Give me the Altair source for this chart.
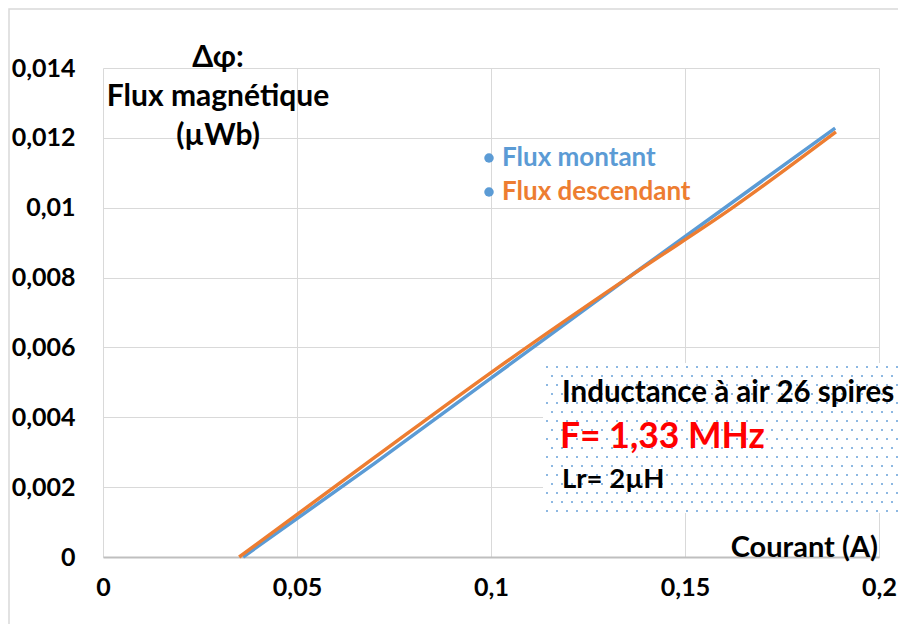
import altair as alt
import pandas as pd

# ---- data ----
series_names = ["Flux montant", "Flux descendant"]
series_colors = ["#5B9BD5", "#ED7D31"]
legend_dot_color = "#5B9BD5"

montant_x = [0.0361, 0.07, 0.1, 0.137, 0.1887]
montant_y = [0.0, 0.00268, 0.00512, 0.00813, 0.01228]

descendant_x = [0.0351, 0.07, 0.1, 0.138, 0.162, 0.1889]
descendant_y = [0.0, 0.00285, 0.00528, 0.00820, 0.00998, 0.01217]

x_ticks = [0, 0.05, 0.1, 0.15, 0.2]
y_ticks = [0, 0.002, 0.004, 0.006, 0.008, 0.010, 0.012, 0.014]

y_title_lines = ["Δφ:", "Flux magnétique", "(µWb)"]
x_title = "Courant (A)"
box_lines = ["Inductance à air 26 spires", "F= 1,33 MHz", "Lr= 2µH"]

FONT = "Lato"
W, H = 776, 489

rows = []
for xv, yv in zip(montant_x, montant_y):
    rows.append({"courant": xv, "flux": yv, "serie": series_names[0], "o": len(rows)})
for xv, yv in zip(descendant_x, descendant_y):
    rows.append({"courant": xv, "flux": yv, "serie": series_names[1], "o": len(rows)})
df = pd.DataFrame(rows)

num_expr = "replace(format(datum.value, '~g'), '.', ',')"

one = alt.Data(values=[{"a": 1}])

def txt(text, x, y, size, color="black", align="left", line_height=None):
    kw = dict(text=text, font=FONT, fontWeight="bold", fontSize=size, color=color,
              align=align, baseline="middle")
    if line_height:
        kw["lineHeight"] = line_height
    return alt.Chart(one).mark_text(**kw).encode(x=alt.value(x), y=alt.value(y))

# outer chart frame (no fill)
frame = alt.Chart(one).mark_rect(fillOpacity=0, stroke="#d9d9d9", strokeWidth=1.5).encode(
    x=alt.value(-94), x2=alt.value(W + 40), y=alt.value(-59), y2=alt.value(H + 120)
)

lines = alt.Chart(df).mark_line(strokeWidth=3.5, interpolate="monotone").encode(
    x=alt.X("courant:Q", scale=alt.Scale(domain=[0, 0.2], nice=False),
            axis=alt.Axis(values=x_ticks, labelExpr=num_expr, title=None, ticks=False,
                          domainColor="#bfbfbf", domainWidth=2, labelPadding=18,
                          labelFont=FONT, labelFontWeight="bold", labelFontSize=25,
                          labelColor="black", gridColor="#d9d9d9", labelFlush=False)),
    y=alt.Y("flux:Q", scale=alt.Scale(domain=[0, 0.014], nice=False),
            axis=alt.Axis(values=y_ticks, labelExpr=num_expr, title=None, ticks=False,
                          domain=False, labelPadding=28,
                          labelFont=FONT, labelFontWeight="bold", labelFontSize=25,
                          labelColor="black", gridColor="#d9d9d9")),
    color=alt.Color("serie:N", scale=alt.Scale(domain=series_names, range=series_colors),
                    legend=None),
    order="o:Q",
)

# annotation box with dotted pattern
box = alt.Chart(one).mark_rect(fill="white").encode(
    x=alt.value(440), x2=alt.value(W + 30), y=alt.value(295), y2=alt.value(445)
)
dots = alt.Chart(alt.sequence(0, 36 * 17, as_="i")).transform_calculate(
    col="datum.i % 36", row="floor(datum.i / 36)"
).transform_calculate(
    px="444 + datum.col * 10 + (datum.row % 2) * 5", py="299 + datum.row * 9"
).mark_square(size=4, color="#8DB8E2", opacity=1).encode(
    x=alt.X("px:Q", scale=None, axis=None), y=alt.Y("py:Q", scale=None, axis=None)
)

# legend (custom, inside plot)
legend_layers = []
for k, (name, col) in enumerate(zip(series_names, series_colors)):
    ly = 90 + 34 * k
    legend_layers.append(
        alt.Chart(one).mark_circle(size=90, color=legend_dot_color, opacity=1).encode(
            x=alt.value(386), y=alt.value(ly))
    )
    legend_layers.append(txt(name, 399, ly, 26, color=col))

y_title = txt(y_title_lines, 115, -10, 30, align="center", line_height=39)
x_title_t = txt(x_title, W - 1, 480, 29, align="right")
b1 = txt(box_lines[0], 459, 325, 29.5)
b2 = txt(box_lines[1], 457, 369, 35.5, color="#FF0000")
b3 = txt(box_lines[2], 459, 412, 27.5)

chart = alt.layer(
    frame, lines, box, dots, *legend_layers, y_title, x_title_t, b1, b2, b3
).resolve_scale(x="independent", y="independent").properties(
    width=W, height=H,
    autosize=alt.AutoSizeParams(type="none"),
    padding={"left": 95, "top": 60, "right": 19, "bottom": 67},
).configure_view(stroke=None)

chart.save("out.html", embed_options={"renderer": "svg", "actions": False})
